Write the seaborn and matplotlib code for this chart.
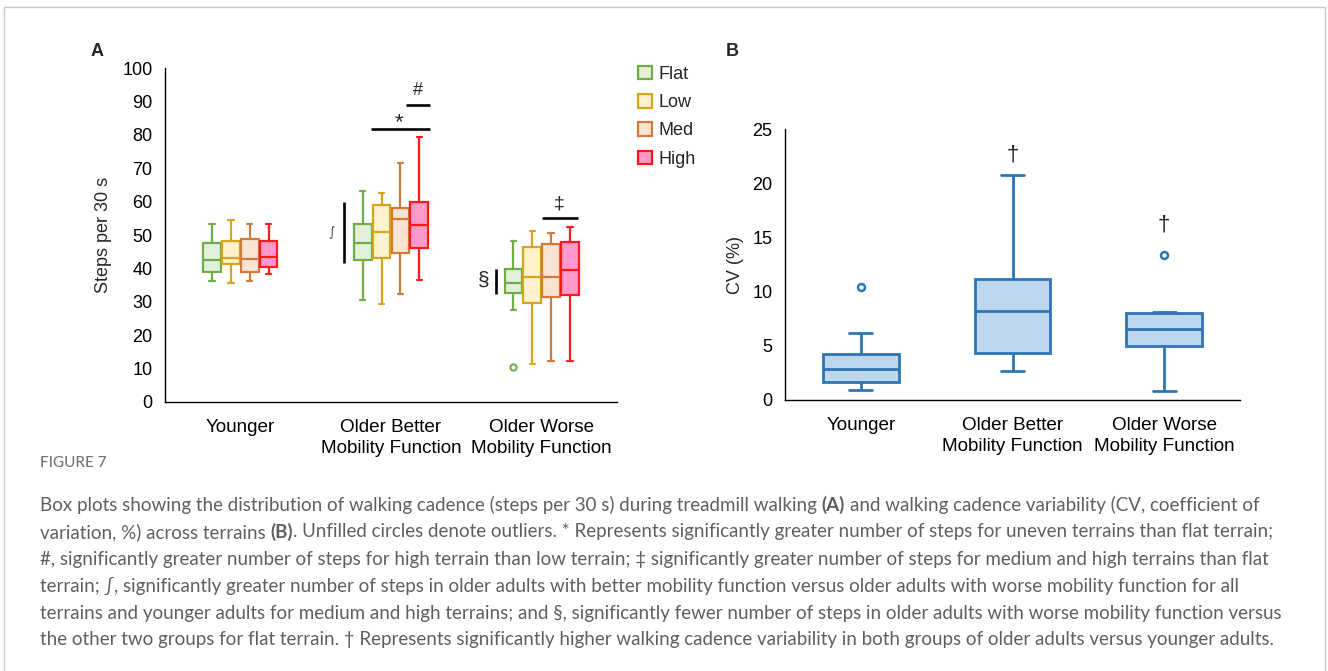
import numpy as np
import pandas as pd
import matplotlib
matplotlib.use("Agg")
import matplotlib.pyplot as plt
import seaborn as sns
from matplotlib.patches import Patch, Rectangle

# ---------------- data ----------------
groups = ["Younger", "Older Better\nMobility Function", "Older Worse\nMobility Function"]
terrains = ["Flat", "Low", "Med", "High"]

# Panel A: steps per 30 s (rows: groups, columns: terrains)
steps_whisker_low = [[36.3, 35.5, 36.3, 38.2],
                     [30.5, 29.3, 32.4, 36.5],
                     [27.5, 11.3, 12.2, 12.2]]
steps_q1 = [[38.9, 41.3, 39.0, 40.3],
            [42.5, 43.2, 44.5, 46.2],
            [32.7, 29.5, 31.3, 31.9]]
steps_median = [[42.5, 43.2, 42.8, 43.3],
                [47.5, 51.0, 54.8, 53.0],
                [35.5, 37.5, 37.5, 39.5]]
steps_q3 = [[47.7, 48.3, 48.9, 48.3],
            [53.4, 59.1, 58.1, 59.8],
            [39.7, 46.5, 47.2, 48.0]]
steps_whisker_high = [[53.4, 54.4, 53.4, 53.4],
                      [63.3, 62.5, 71.5, 79.5],
                      [48.2, 51.3, 50.7, 52.5]]
steps_outliers = [[[], [], [], []],
                  [[], [], [], []],
                  [[10.5], [], [], []]]

# Panel B: CV (%)
cv_whisker_low = [0.92, 2.7, 0.83]
cv_q1 = [1.63, 4.37, 4.99]
cv_median = [2.83, 8.25, 6.6]
cv_q3 = [4.25, 11.2, 8.07]
cv_whisker_high = [6.15, 20.8, 8.16]
cv_outliers = [[10.4], [], [13.4]]

fill_colors = {"Flat": "#E2EFDA", "Low": "#FFF2CC", "Med": "#FBE3D3", "High": "#FF99CC"}
edge_colors = {"Flat": "#70AD47", "Low": "#D6A51E", "Med": "#D27A3C", "High": "#FF1A1A"}
blue_fill = "#BDD7EE"
blue_edge = "#2E75B6"


def observations(lo, q1, med, q3, hi, outs):
    # sample whose quartiles / whisker ends equal the read five-number summary
    return [lo, q1, q1, q1, med, med, med, q3, q3, q3, hi] + list(outs)


rows = []
for gi, g in enumerate(groups):
    for ti, t in enumerate(terrains):
        for v in observations(steps_whisker_low[gi][ti], steps_q1[gi][ti], steps_median[gi][ti],
                              steps_q3[gi][ti], steps_whisker_high[gi][ti], steps_outliers[gi][ti]):
            rows.append((g, t, v))
dfA = pd.DataFrame(rows, columns=["group", "terrain", "steps"])

rows = []
for gi, g in enumerate(groups):
    for v in observations(cv_whisker_low[gi], cv_q1[gi], cv_median[gi], cv_q3[gi],
                          cv_whisker_high[gi], cv_outliers[gi]):
        rows.append((g, v))
dfB = pd.DataFrame(rows, columns=["group", "cv"])

# ---------------- figure ----------------
sns.set_style("white")
plt.rcParams["font.family"] = ["Liberation Sans", "DejaVu Sans"]
W, H = 1328, 671
fig = plt.figure(figsize=(W / 100, H / 100), dpi=100)
fig.patch.set_facecolor("white")


def ax_rect(x0, x1, y_top, y_bot):
    return [x0 / W, 1 - y_bot / H, (x1 - x0) / W, (y_bot - y_top) / H]


axA = fig.add_axes(ax_rect(165, 617, 68.3, 401.7))
axB = fig.add_axes(ax_rect(785, 1240, 129.3, 400))

for t in terrains:
    sub = dfA[dfA["terrain"] == t]
    sns.boxplot(data=sub, x="group", y="steps", hue="terrain", order=groups, hue_order=terrains,
                palette=fill_colors, saturation=1, linecolor=edge_colors[t], linewidth=1.6,
                width=0.5, gap=0.06, dodge=True, legend=False, ax=axA,
                capwidths=0.035,
                flierprops=dict(marker="o", markersize=4.5, markerfacecolor="white",
                                markeredgecolor=edge_colors[t], markeredgewidth=1.5))

sns.boxplot(data=dfB, x="group", y="cv", order=groups, color=blue_fill, saturation=1,
            linecolor=blue_edge, linewidth=2.0, width=0.5, ax=axB, capwidths=0.15,
            flierprops=dict(marker="o", markersize=5, markerfacecolor="white",
                            markeredgecolor=blue_edge, markeredgewidth=1.8))

for ax in (axA, axB):
    sns.despine(ax=ax)
    ax.spines["left"].set_color("black")
    ax.spines["bottom"].set_color("black")
    ax.spines["left"].set_linewidth(1.0)
    ax.spines["bottom"].set_linewidth(1.0)
    ax.set_xlim(-0.5, 2.5)
    ax.set_xlabel("")
    ax.set_ylabel("")
    ax.tick_params(axis="both", length=0, labelsize=13, colors="black")
    ax.tick_params(axis="y", pad=9)
    ax.tick_params(axis="x", pad=12.5)
    ax.set_xticks([0, 1, 2])
    ax.set_xticklabels(groups, fontsize=13.6, linespacing=1.3)
    ax.grid(False)

axA.set_ylim(0, 100)
axA.set_yticks(np.arange(0, 101, 10))
axB.set_ylim(0, 25)
axB.set_yticks(np.arange(0, 26, 5))

fig.text(103 / W, 1 - 235 / H, "Steps per 30 s", rotation=90, ha="center", va="center", fontsize=13)
fig.text(735 / W, 1 - 265 / H, "CV (%)", rotation=90, ha="center", va="center", fontsize=13)
fig.text(97 / W, 1 - 52 / H, "A", ha="center", va="center", fontsize=13, fontweight="bold")
fig.text(732 / W, 1 - 52 / H, "B", ha="center", va="center", fontsize=13, fontweight="bold")

# significance annotations (panel A)
bar_kw = dict(color="black", lw=1.9, solid_capstyle="butt")
axA.plot([1.10, 1.26], [89.0, 89.0], **bar_kw)
axA.text(1.18, 93.3, "#", ha="center", va="center", fontsize=13)
axA.plot([0.87, 1.26], [81.7, 81.7], **bar_kw)
axA.text(1.056, 83.6, "*", ha="center", va="center", fontsize=16)
axA.plot([0.687, 0.687], [41.7, 60.0], **bar_kw)
axA.text(0.604, 50.6, "\u222b", ha="center", va="center", fontsize=9, color="#444444",
         family=["DejaVu Sans"])
axA.plot([2.0, 2.244], [55.2, 55.2], **bar_kw)
axA.text(2.116, 59.2, "\u2021", ha="center", va="center", fontsize=14)
axA.plot([1.697, 1.697], [32.3, 39.8], **bar_kw)
axA.text(1.613, 36.3, "\u00a7", ha="center", va="center", fontsize=15)

# panel B daggers
axB.text(1, 22.6, "\u2020", ha="center", va="center", fontsize=16)
axB.text(2, 16.2, "\u2020", ha="center", va="center", fontsize=16)

# legend
handles = [Patch(facecolor=fill_colors[t], edgecolor=edge_colors[t], linewidth=1.6) for t in terrains]
fig.legend(handles, terrains, loc="upper left", bbox_to_anchor=(638 / W, 1 - 66 / H),
           frameon=False, fontsize=13, handlelength=0.75, handleheight=0.75,
           handletextpad=0.4, labelspacing=0.62, borderaxespad=0, borderpad=0)

# outer frame
fig.add_artist(Rectangle((4 / W, -0.05), (1325 - 4) / W, 1.05 - 7 / H, transform=fig.transFigure,
                         fill=False, edgecolor="#c8c8c8", linewidth=1.0))

# caption
cap_family = ["Lato", "DejaVu Sans"]
cap_color = "#5f5f5f"
cap_size = 13.5
fig.text(40 / W, 1 - 463 / H, "FIGURE 7", ha="left", va="center", fontsize=11,
         color="#747474", family=cap_family, fontweight="medium")

caption_lines = [
    [("Box plots showing the distribution of walking cadence (steps per 30 s) during treadmill walking ", False),
     ("(A)", True), (" and walking cadence variability (CV, coefficient of", False)],
    [("variation, %) across terrains ", False), ("(B)", True),
     (". Unfilled circles denote outliers. * Represents significantly greater number of steps for uneven terrains than flat terrain;", False)],
    [("#, significantly greater number of steps for high terrain than low terrain; \u2021 significantly greater number of steps for medium and high terrains than flat", False)],
    [("terrain; \u222b, significantly greater number of steps in older adults with better mobility function versus older adults with worse mobility function for all", False)],
    [("terrains and younger adults for medium and high terrains; and \u00a7, significantly fewer number of steps in older adults with worse mobility function versus", False)],
    [("the other two groups for flat terrain. \u2020 Represents significantly higher walking cadence variability in both groups of older adults versus younger adults.", False)],
]
line_y = [505, 532, 559, 586, 613, 640]

renderer = fig.canvas.get_renderer()


def text_width(s, bold):
    t = fig.text(0, 0, s, fontsize=cap_size, family=cap_family,
                 fontweight="bold" if bold else "normal")
    w = t.get_window_extent(renderer).width
    t.remove()
    return w


space_w = text_width("a a", False) - text_width("aa", False)
for segs, yp in zip(caption_lines, line_y):
    x = 40.0
    for s, bold in segs:
        lead = len(s) - len(s.lstrip(" "))
        trail = len(s) - len(s.rstrip(" "))
        core = s.strip(" ")
        x += lead * space_w
        t = fig.text(x / W, 1 - yp / H, core, ha="left", va="center", fontsize=cap_size,
                     family=cap_family, color=cap_color, fontweight="bold" if bold else "normal")
        x += t.get_window_extent(renderer).width + trail * space_w

fig.savefig("out.png", dpi=100, facecolor="white")
